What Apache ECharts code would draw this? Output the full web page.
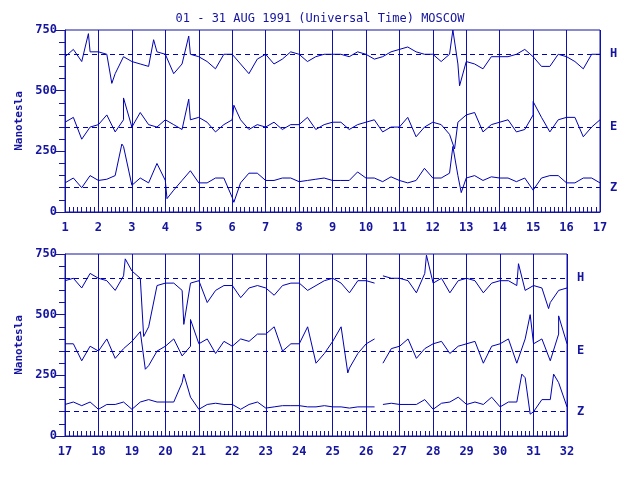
<!DOCTYPE html>
<html>
<head>
<meta charset="utf-8">
<script src="https://cdn.jsdelivr.net/npm/echarts@6/dist/echarts.min.js"></script>
<style>html,body{margin:0;background:#fff}#main{width:640px;height:480px}</style>
</head>
<body>
<div id="main"></div>
<script>
// quarter-day samples, panel 1 = day 1..17, panel 2 = day 17..32
var hTop = [640,670,620,660,660,650,570,640,620,610,600,660,650,570,610,650,640,620,590,650,650,610,570,630,650,610,630,660,650,620,640,650,650,650,640,660,650,630,640,660,670,680,660,650,650,620,650,610,620,610,590,640,640,640,650,670,640,600,600,650,640,620,590,650,650];
var eTop = [370,390,300,350,360,400,330,380,350,410,360,350,380,360,340,380,390,370,330,360,380,380,340,360,350,370,340,360,360,390,340,360,370,370,340,360,370,380,330,350,350,390,310,350,370,360,320,370,400,410,330,360,370,380,330,340,400,390,330,380,390,390,310,350,380];
var zTop = [120,140,100,150,130,135,150,270,110,140,120,200,130,90,130,170,120,120,140,140,60,120,160,160,130,130,140,140,125,130,135,140,130,130,130,165,140,140,125,145,130,120,130,180,140,140,160,150,140,150,130,145,140,140,125,140,90,140,150,150,120,120,140,140,120];
var hBot = [640,650,610,670,650,640,600,660,680,650,450,620,630,630,600,630,640,550,600,620,620,570,610,620,610,580,620,630,630,600,620,640,650,630,590,640,640,630,660,650,650,640,590,670,630,650,590,640,650,640,590,630,640,640,620,600,620,610,550,600,610];
var eBot = [380,380,310,370,350,400,320,360,390,430,290,350,370,400,330,370,380,400,340,390,370,400,390,420,420,450,350,380,380,450,300,340,390,450,280,340,380,400,300,360,370,400,320,360,380,390,340,370,380,390,300,370,380,400,300,400,380,400,310,420,380];
var zBot = [130,140,125,140,110,130,130,140,110,140,150,140,140,140,220,160,110,130,135,130,130,110,130,140,115,120,125,125,125,120,120,125,120,120,115,120,120,120,130,135,130,130,130,150,110,135,140,160,130,140,130,160,120,140,140,240,100,150,150,220,120];
// extra spikes [day, value]; null = data gap
var hTopSpikes = [[1.7,735],[2.4,530],[3.65,710],[4.7,725],[12.6,750],[12.8,520]];
var eTopSpikes = [[2.75,470],[4.7,465],[6.05,440],[12.65,260],[15.0,455]];
var zTopSpikes = [[2.7,280],[4.05,55],[6.05,40],[12.6,270],[12.85,80]];
var hBotSpikes = [[18.8,730],[19.35,410],[20.55,460],[26.3,null],[27.8,745],[30.55,710],[31.45,525]];
var eBotSpikes = [[19.4,275],[20.75,480],[25.45,260],[26.3,null],[30.9,500],[31.75,495]];
var zBotSpikes = [[20.55,255],[26.3,null],[30.65,255],[30.9,90],[31.6,255]];
var refLines = [650, 350, 100];
var compNames = ['H', 'E', 'Z'];

var blue = '#1414a0';
var font = 'DejaVu Sans Mono';

function build(vals, start, spikes) {
    var pts = vals.map(function (v, i) { return [start + i * 0.25, v]; });
    return pts.concat(spikes).sort(function (a, b) { return a[0] - b[0]; });
}

var myChart = echarts.init(document.getElementById('main'));

var grids = [
    { left: 65, top: 30, width: 535, height: 182 },
    { left: 65, top: 254, width: 502, height: 182 }
];

function xAxis(i, min, max) {
    return {
        type: 'value', gridIndex: i, min: min, max: max, interval: 1,
        axisLine: { lineStyle: { color: blue } },
        axisTick: { inside: true, length: 8, lineStyle: { color: blue } },
        minorTick: { show: true, splitNumber: 8, length: 5, lineStyle: { color: blue } },
        splitLine: { show: true, lineStyle: { color: '#1010b0', width: 1 } },
        axisLabel: { color: blue, fontFamily: font, fontWeight: 'bold', fontSize: 12, margin: 10 }
    };
}
function yAxis(i) {
    return {
        type: 'value', gridIndex: i, min: 0, max: 750, interval: 250,
        name: 'Nanotesla', nameLocation: 'middle', nameGap: 38,
        nameTextStyle: { color: blue, fontFamily: font, fontWeight: 'bold', fontSize: 11 },
        axisLine: { show: true, lineStyle: { color: blue } },
        axisTick: { length: 10, lineStyle: { color: blue } },
        minorTick: { show: true, splitNumber: 5, length: 6, lineStyle: { color: blue } },
        splitLine: { show: false },
        axisLabel: { color: blue, fontFamily: font, fontWeight: 'bold', fontSize: 12 }
    };
}

var panels = [
    [hTop, eTop, zTop, hTopSpikes, eTopSpikes, zTopSpikes, 1],
    [hBot, eBot, zBot, hBotSpikes, eBotSpikes, zBotSpikes, 17]
];
var series = [];
panels.forEach(function (p, gi) {
    for (var k = 0; k < 3; k++) {
        series.push({
            type: 'line', xAxisIndex: gi, yAxisIndex: gi, showSymbol: false,
            data: build(p[k], p[6], p[k + 3]), connectNulls: false,
            lineStyle: { color: '#0000b4', width: 1 }, animation: false,
            markLine: {
                symbol: 'none', silent: true, animation: false,
                label: { show: true, position: 'end', formatter: compNames[k], distance: 10,
                    color: blue, fontFamily: font, fontWeight: 'bold', fontSize: 12 },
                lineStyle: { color: '#0000b4', type: [5, 4], width: 1 },
                data: [{ yAxis: refLines[k] }]
            }
        });
    }
});

myChart.setOption({
    backgroundColor: '#fff',
    title: {
        text: '01 - 31 AUG 1991 (Universal Time) MOSCOW', left: 'center', top: 8,
        textStyle: { color: blue, fontFamily: font, fontWeight: 'normal', fontSize: 12 }
    },
    grid: grids.map(function (g) {
        return Object.assign({ show: true, borderColor: blue, borderWidth: 1 }, g);
    }),
    xAxis: [xAxis(0, 1, 17), xAxis(1, 17, 32)],
    yAxis: [yAxis(0), yAxis(1)],
    series: series
});
</script>
</body>
</html>
